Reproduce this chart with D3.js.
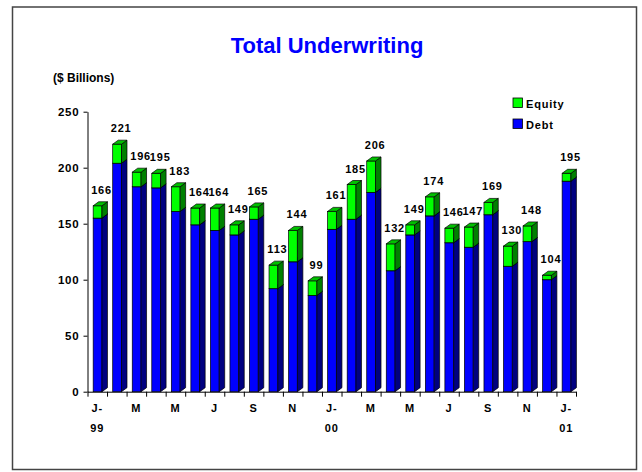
<!DOCTYPE html>
<html>
<head>
<meta charset="utf-8">
<script src="https://cdn.jsdelivr.net/npm/d3@7"></script>
<style>
  body { margin: 0; background: #fff; }
  svg { display: block; font-family: "Liberation Sans", Arial, sans-serif; }
  .lbl { font-weight: bold; font-size: 11px; letter-spacing: 0.8px; fill: #000; }
</style>
</head>
<body>
<svg id="chart" width="642" height="472"></svg>
<script>
// months Jan-99 .. Jan-01
const months = [
  "Jan-99", "Feb-99", "Mar-99", "Apr-99", "May-99", "Jun-99", "Jul-99",
  "Aug-99", "Sep-99", "Oct-99", "Nov-99", "Dec-99", "Jan-00", "Feb-00",
  "Mar-00", "Apr-00", "May-00", "Jun-00", "Jul-00", "Aug-00", "Sep-00",
  "Oct-00", "Nov-00", "Dec-00", "Jan-01"
];
const debt = [155, 204, 183, 182, 161, 149, 144, 140, 154, 92, 116, 86, 145,
  154, 178, 108, 140, 157, 133, 129, 158, 112, 134, 100, 188];
const equity = [11, 17, 13, 13, 22, 15, 20, 9, 11, 21, 28, 13, 16,
  31, 28, 24, 9, 17, 13, 18, 11, 18, 14, 4, 7];
// x tick labels (two lines), shown every second month
const tickTop = ["J-", "", "M", "", "M", "", "J", "", "S", "", "N", "", "J-",
  "", "M", "", "M", "", "J", "", "S", "", "N", "", "J-"];
const tickBottom = ["99", "", "", "", "", "", "", "", "", "", "", "", "00",
  "", "", "", "", "", "", "", "", "", "", "", "01"];
const yTicks = [0, 50, 100, 150, 200, 250];

const svg = d3.select("#chart");

// outer frame
svg.append("rect")
  .attr("x", 12.5).attr("y", 7)
  .attr("width", 624).attr("height", 462.5)
  .attr("fill", "none")
  .attr("stroke", "#444")
  .attr("stroke-width", 1.5);

svg.append("text")
  .attr("x", 327).attr("y", 53)
  .attr("text-anchor", "middle")
  .attr("fill", "#0000ff")
  .style("font-weight", "bold")
  .style("font-size", "22px")
  .text("Total Underwriting");

svg.append("text")
  .attr("x", 53).attr("y", 82)
  .style("font-weight", "bold")
  .style("font-size", "12px")
  .text("($ Billions)");

const x0 = 87.5, x1 = 576;
const x = d3.scaleBand().domain(months).range([x0, x1]).padding(0);
const y = d3.scaleLinear().domain([0, 250]).range([391.7, 111.7]);

const bw = x.bandwidth();
const fx = bw * 0.29, fw = bw * 0.45; // front face offset / width
const dx = 5.5, dy = 4;               // depth

const yAxis = d3.axisLeft(y).tickValues(yTicks).tickSize(4).tickSizeOuter(0).tickPadding(4);
const gy = svg.append("g")
  .attr("transform", `translate(${x0},0)`)
  .call(yAxis);
gy.selectAll("text").attr("class", "lbl").style("font-size", "11.5px").attr("font-family", null);

// tick marks on category boundaries
const xb = d3.scaleLinear().domain([0, months.length]).range([x0, x1]);
svg.append("g")
  .attr("transform", `translate(0,${y(0)})`)
  .call(d3.axisBottom(xb).ticks(months.length).tickSize(5).tickSizeOuter(0).tickFormat(""));

const rows = months.map((m, i) => ({
  m,
  segs: [
    { y0: 0, y1: debt[i], front: "#0000ff", side: "#000080", top: "#0000c0" },
    { y0: debt[i], y1: debt[i] + equity[i], front: "#00ff00", side: "#008000", top: "#00c000" }
  ],
  total: debt[i] + equity[i]
}));

const bars = svg.append("g").selectAll("g.bar")
  .data(rows)
  .join("g")
  .attr("class", "bar");

bars.each(function(d) {
  const g = d3.select(this);
  const xl = x(d.m) + fx, xr = xl + fw;
  d.segs.forEach(s => {
    const yt = y(s.y1), yb = y(s.y0);
    g.append("rect")
      .attr("x", xl).attr("y", yt)
      .attr("width", fw).attr("height", yb - yt)
      .attr("fill", s.front).attr("stroke", "#000").attr("stroke-width", 0.7);
    g.append("path")
      .attr("d", `M${xr},${yt}L${xr + dx},${yt - dy}L${xr + dx},${yb - dy}L${xr},${yb}Z`)
      .attr("fill", s.side).attr("stroke", "#000").attr("stroke-width", 0.7);
    g.append("path")
      .attr("d", `M${xl},${yt}L${xl + dx},${yt - dy}L${xr + dx},${yt - dy}L${xr},${yt}Z`)
      .attr("fill", s.top).attr("stroke", "#000").attr("stroke-width", 0.7);
  });
  g.append("text")
    .attr("class", "lbl")
    .attr("x", xl + fw / 2 + 4)
    .attr("y", y(d.total) - 12)
    .attr("text-anchor", "middle")
    .text(d.total);
});

// x labels
const xlab = svg.append("g");
xlab.selectAll("text.t1")
  .data(months)
  .join("text")
  .attr("class", "lbl t1")
  .attr("x", d => x(d) + bw / 2)
  .attr("y", 412)
  .attr("text-anchor", "middle")
  .text((d, i) => tickTop[i]);
xlab.selectAll("text.t2")
  .data(months)
  .join("text")
  .attr("class", "lbl t2")
  .attr("x", d => x(d) + bw / 2)
  .attr("y", 432)
  .attr("text-anchor", "middle")
  .text((d, i) => tickBottom[i]);

// legend
const legend = [
  { name: "Equity", color: "#00ff00" },
  { name: "Debt", color: "#0000ff" }
];
const lg = svg.append("g").attr("transform", "translate(513,98)");
legend.forEach((l, i) => {
  lg.append("rect")
    .attr("x", 0).attr("y", i * 21)
    .attr("width", 9.5).attr("height", 9.5)
    .attr("fill", l.color).attr("stroke", "#000").attr("stroke-width", 0.8);
  lg.append("text")
    .attr("class", "lbl")
    .attr("x", 13).attr("y", i * 21 + 9.5)
    .text(l.name);
});
</script>
</body>
</html>
